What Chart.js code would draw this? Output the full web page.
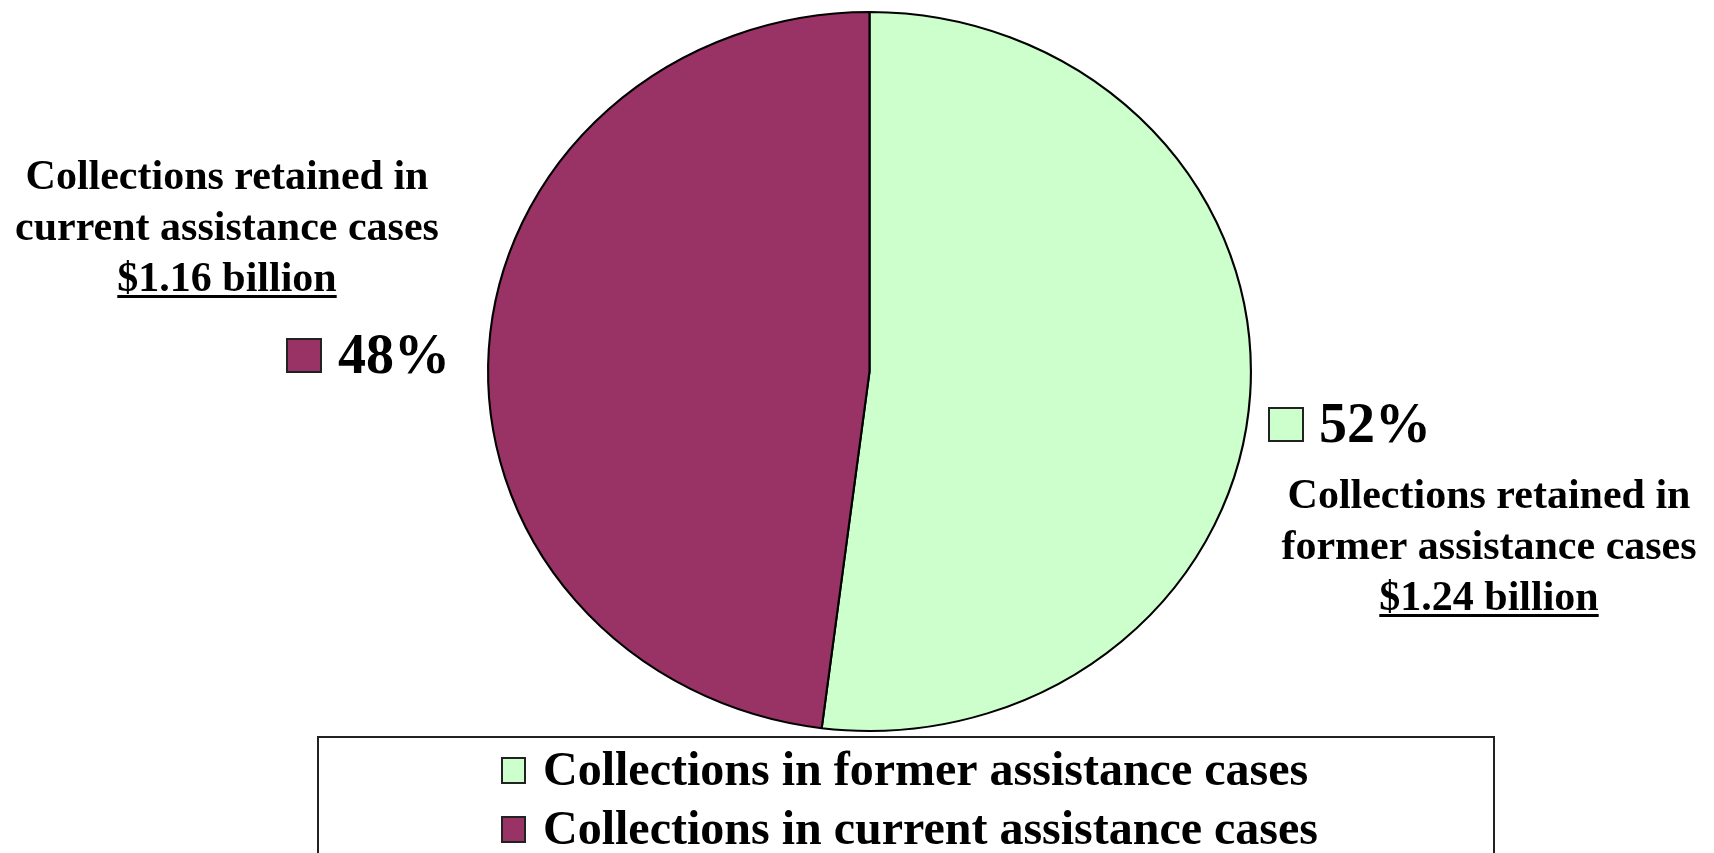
<!DOCTYPE html>
<html>
<head>
<meta charset="utf-8">
<script src="https://cdn.jsdelivr.net/npm/chart.js@4/dist/chart.umd.min.js"></script>
<style>
  html, body { margin: 0; padding: 0; background: #ffffff; }
  #wrap { width: 1714px; height: 853px; position: relative; }
  canvas { display: block; }
</style>
</head>
<body>
<div id="wrap"><canvas id="c" width="1714" height="853"></canvas></div>
<script>
// ---- data ----
const categories = ['Collections in former assistance cases', 'Collections in current assistance cases'];
const percentValues = [52, 48];
const percentLabels = ['52%', '48%'];
const amountLabels = ['$1.24 billion', '$1.16 billion'];
const calloutTitles = [
  ['Collections retained in', 'former assistance cases'],
  ['Collections retained in', 'current assistance cases']
];
const sliceColors = ['#CCFFCC', '#993366'];

const FONT = '"Liberation Serif", "Times New Roman", serif';

// stretch the pie slightly horizontally (reference pie is a mild ellipse)
const ellipsePlugin = {
  id: 'ellipse',
  beforeDatasetsDraw(chart) {
    const meta = chart.getDatasetMeta(0);
    const arc = meta.data[0];
    const ctx = chart.ctx;
    ctx.save();
    ctx.translate(arc.x, arc.y);
    ctx.scale(1.061, 1);
    ctx.translate(-arc.x, -arc.y);
  },
  afterDatasetsDraw(chart) {
    chart.ctx.restore();
  }
};

function underlineText(ctx, text, cx, baseline) {
  ctx.textAlign = 'center';
  ctx.textBaseline = 'alphabetic';
  ctx.fillText(text, cx, baseline);
  const w = ctx.measureText(text).width;
  ctx.fillRect(cx - w / 2, baseline + 4, w, 3);
}

const annotationsPlugin = {
  id: 'annotations',
  afterDraw(chart) {
    const ctx = chart.ctx;
    ctx.save();
    ctx.fillStyle = '#000';

    // callouts: index 0 = former (right side), index 1 = current (left side)
    const callout = [
      { cx: 1489, base: 508, boxX: 1269, boxY: 408, pctX: 1319, pctBase: 442 },
      { cx: 227, base: 189, boxX: 287, boxY: 339, pctX: 338, pctBase: 373 }
    ];
    callout.forEach((c, i) => {
      ctx.font = 'bold 42px ' + FONT;
      ctx.textAlign = 'center';
      ctx.textBaseline = 'alphabetic';
      ctx.fillStyle = '#000';
      calloutTitles[i].forEach((line, k) => ctx.fillText(line, c.cx, c.base + k * 51));
      underlineText(ctx, amountLabels[i], c.cx, c.base + 2 * 51);

      // percent marker
      ctx.fillStyle = sliceColors[i];
      ctx.fillRect(c.boxX, c.boxY, 34, 33);
      ctx.strokeStyle = '#222';
      ctx.lineWidth = 2;
      ctx.strokeRect(c.boxX, c.boxY, 34, 33);
      ctx.fillStyle = '#000';
      ctx.font = 'bold 56px ' + FONT;
      ctx.textAlign = 'left';
      ctx.fillText(percentLabels[i], c.pctX, c.pctBase);
    });

    // legend box
    ctx.strokeStyle = '#222';
    ctx.lineWidth = 2;
    ctx.strokeRect(318, 737, 1176, 140);
    ctx.font = 'bold 48px ' + FONT;
    ctx.textAlign = 'left';
    categories.forEach((label, i) => {
      const top = 758 + i * 59;
      ctx.fillStyle = sliceColors[i];
      ctx.fillRect(502, top, 23, 25);
      ctx.strokeStyle = '#222';
      ctx.lineWidth = 2;
      ctx.strokeRect(502, top, 23, 25);
      ctx.fillStyle = '#000';
      ctx.fillText(label, 543, 785 + i * 59);
    });
    ctx.restore();
  }
};

new Chart(document.getElementById('c'), {
  type: 'pie',
  data: {
    labels: categories,
    datasets: [{
      data: percentValues,
      backgroundColor: sliceColors,
      borderColor: '#000',
      borderWidth: 2,
      borderAlign: 'center'
    }]
  },
  options: {
    responsive: false,
    devicePixelRatio: 1,
    animation: false,
    rotation: 0,
    layout: { padding: { top: 11, bottom: 121, left: 400, right: 375 } },
    plugins: {
      legend: { display: false },
      tooltip: { enabled: false }
    }
  },
  plugins: [ellipsePlugin, annotationsPlugin]
});
</script>
</body>
</html>
